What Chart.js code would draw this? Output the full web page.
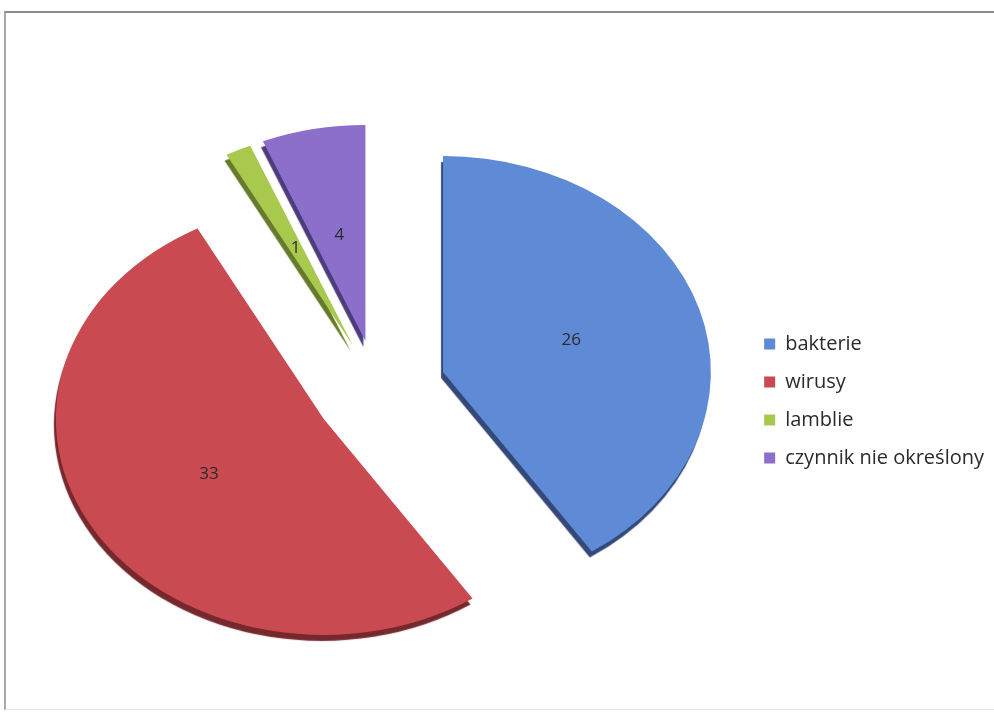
<!DOCTYPE html>
<html>
<head>
<meta charset="utf-8">
<script src="https://cdn.jsdelivr.net/npm/chart.js@4.4.1/dist/chart.umd.min.js"></script>
<style>
  body { margin: 0; background: #fff; overflow: hidden; }
  canvas { position: absolute; left: 0; top: 0; }
  #ramka { position: absolute; left: 4px; top: 11px; width: 990px; height: 696px;
           border-top: 2px solid #8c8c8c; border-left: 2px solid #a8a8a8;
           border-bottom: 1px solid #e6e6e6; pointer-events: none; }
</style>
</head>
<body>
<canvas id="myChart" width="994" height="719"></canvas>
<div id="ramka"></div>
<script>
// dane z wykresu
const etykiety = ['bakterie', 'wirusy', 'lamblie', 'czynnik nie określony'];
const wartosci = [26, 33, 1, 4];

const kolory    = ['#5f8ad6', '#c94a50', '#a9c84e', '#8c6fcb'];
const koloryBok = ['#34497a', '#76292d', '#657a2a', '#4d3c7c'];   // "grubosc" 3D
// przesuniecie wycinkow (dx, dy) w px, przed rozciagnieciem w poziomie
const wysuniecie = [[53.6, -14], [-42.6, 33], [-19.2, -40.7], [-9, -45.1]];
const rozciagniecie = 1.24;            // tort jest elipsa, nie kolem

// rysuje wycinki wysuniete + splaszczone, z ciemnym bokiem
const tort3d = {
    id: 'tort3d',
    beforeDatasetsDraw(chart) {
        const ctx = chart.ctx;
        const arcs = chart.getDatasetMeta(0).data;
        const cx = arcs[0].x;
        ctx.save();
        ctx.translate(cx, 0);
        ctx.scale(rozciagniecie, 1);
        ctx.translate(-cx, 0);
        arcs.forEach((arc, i) => {
            ctx.save();
            ctx.translate(wysuniecie[i][0], wysuniecie[i][1]);
            ctx.shadowColor = koloryBok[i];
            ctx.shadowOffsetX = -2;
            ctx.shadowOffsetY = 6;
            ctx.shadowBlur = 1;
            arc.draw(ctx);
            ctx.restore();
        });
        ctx.restore();
        return false;
    },
    afterDraw(chart) {
        const ctx = chart.ctx;
        const arcs = chart.getDatasetMeta(0).data;
        const cx = arcs[0].x;
        ctx.save();
        ctx.font = '17px "Open Sans"';
        ctx.fillStyle = '#2b2b2b';
        ctx.textAlign = 'center';
        ctx.textBaseline = 'middle';
        arcs.forEach((arc, i) => {
            const p = arc.tooltipPosition();
            const x = p.x + wysuniecie[i][0];
            const y = p.y + wysuniecie[i][1];
            ctx.fillText(String(wartosci[i]), cx + (x - cx) * rozciagniecie, y);
        });
        ctx.restore();
    }
};

const ctx = document.getElementById('myChart');

new Chart(ctx, {
    type: 'pie',
    data: {
        labels: etykiety,
        datasets: [{
            data: wartosci,
            backgroundColor: kolory,
            borderWidth: 0,
            radius: 216,
            hoverOffset: 0
        }]
    },
    options: {
        responsive: false,
        animation: false,
        events: [],
        layout: { padding: { left: 7, right: 0, top: 53, bottom: 0 } },
        plugins: {
            legend: {
                position: 'right',
                // pusty tytul tylko po to, zeby zsunac legende troche w dol
                title: { display: true, text: '', padding: 9, font: { size: 10 } },
                labels: {
                    boxWidth: 11,
                    boxHeight: 11,
                    padding: 18,
                    color: '#2b2b2b',
                    font: { family: 'Open Sans', size: 20 }
                }
            },
            tooltip: { enabled: false }
        }
    },
    plugins: [tort3d]
});
</script>
</body>
</html>
